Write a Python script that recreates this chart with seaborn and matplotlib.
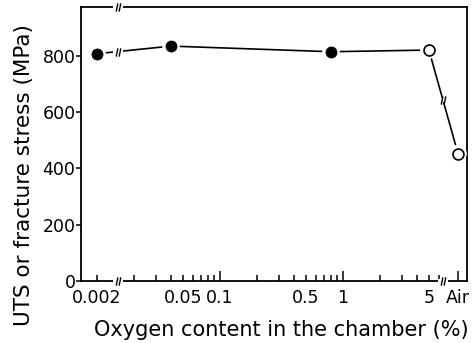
import numpy as np
import pandas as pd
import matplotlib
matplotlib.use("Agg")
import matplotlib.pyplot as plt
import seaborn as sns
from matplotlib.path import Path
from matplotlib.ticker import FixedLocator, FixedFormatter, NullFormatter
from matplotlib.transforms import blended_transform_factory

# ---------------- data ----------------
oxygen_pct = [0.002, 0.04, 0.8, 5.0, 21.0]      # 21 % = "Air"
stress_mpa = [808, 835, 815, 821, 453]
filled = [True, True, True, False, False]

tick_values = [0.002, 0.05, 0.1, 0.5, 1, 5, 21]
tick_labels = ["0.002", "0.05", "0.1", "0.5", "1", "5", "Air"]
long_ticks = [0.1, 1, 21]
minor_ticks = [0.02, 0.03, 0.04, 0.06, 0.07, 0.08, 0.09,
               0.2, 0.3, 0.4, 0.6, 0.7, 0.8, 0.9,
               2, 3, 4, 6]
y_ticks = [0, 200, 400, 600, 800]

# ---------------- broken log scale ----------------
LOW_SHIFT = 0.70
B1 = -1.83
B2 = 0.813
HIGH_SHIFT = 0.387


def forward(x):
    x = np.asarray(x, dtype=float)
    lx = np.log10(np.clip(x, 1e-9, None))
    return np.where(lx + LOW_SHIFT <= B1, lx + LOW_SHIFT,
           np.where(lx <= B1, B1,
           np.where(lx <= B2, lx,
           np.where(lx - HIGH_SHIFT <= B2, B2, lx - HIGH_SHIFT))))


def inverse(u):
    u = np.asarray(u, dtype=float)
    return np.where(u <= B1, 10 ** (u - LOW_SHIFT),
           np.where(u <= B2, 10 ** u, 10 ** (u + HIGH_SHIFT)))


sns.set_theme(style="ticks")
plt.rcParams["font.family"] = ["DejaVu Sans"]
plt.rcParams.update({"text.color": "black", "axes.labelcolor": "black",
                     "xtick.color": "black", "ytick.color": "black",
                     "axes.edgecolor": "black"})

fig = plt.figure(figsize=(4.75, 3.43), dpi=100)
ax = fig.add_axes([0.1705, 0.1808, 0.983 - 0.1705, 0.9796 - 0.1808])
ax.set_xscale("function", functions=(forward, inverse))

df = pd.DataFrame({"oxygen": oxygen_pct, "stress": stress_mpa, "filled": filled})

sns.lineplot(data=df, x="oxygen", y="stress", sort=False, estimator=None,
             color="black", lw=1.2, ax=ax, zorder=2)
# white halo around markers
sns.scatterplot(data=df, x="oxygen", y="stress", s=160, color="white",
                edgecolor="none", ax=ax, zorder=3)
sns.scatterplot(data=df[df.filled], x="oxygen", y="stress", s=62,
                color="black", edgecolor="black", ax=ax, zorder=4)
sns.scatterplot(data=df[~df.filled], x="oxygen", y="stress", s=62,
                color="white", edgecolor="black", linewidth=1.2, ax=ax, zorder=4)

ax.set_xlim(inverse(-2.13), inverse(1.008))
ax.set_ylim(0, 974)

# ticks
ax.xaxis.set_major_locator(FixedLocator(tick_values))
ax.xaxis.set_major_formatter(FixedFormatter(tick_labels))
ax.xaxis.set_minor_locator(FixedLocator(minor_ticks))
ax.xaxis.set_minor_formatter(NullFormatter())
ax.set_yticks(y_ticks)
ax.set_yticklabels([str(v) for v in y_ticks])

ax.tick_params(axis="x", which="both", direction="in", width=1.1,
               labelsize=12.5, pad=6, top=False, color="black", labelcolor="black")
ax.tick_params(axis="x", which="major", length=4)
ax.tick_params(axis="x", which="minor", length=4)
ax.tick_params(axis="y", direction="out", length=3.5, width=1.1,
               labelsize=12.5, pad=0.5, right=False, color="black", labelcolor="black")
for val, tk in zip(tick_values, ax.xaxis.get_major_ticks()):
    if val in long_ticks:
        tk.tick1line.set_markersize(7)

for sp in ax.spines.values():
    sp.set_visible(True)
    sp.set_linewidth(1.3)
    sp.set_color("black")

ax.set_xlabel("Oxygen content in the chamber (%)", fontsize=15, color="black")
ax.set_ylabel("UTS or fracture stress (MPa)", fontsize=15.5, color="black")
ax.xaxis.set_label_coords(0.52, -0.142)
ax.yaxis.set_label_coords(-0.122, 0.385)

# ---------------- break marks ----------------
slash = Path([(-0.55, -1), (-0.15, 1), (0.15, -1), (0.55, 1)],
             [Path.MOVETO, Path.LINETO, Path.MOVETO, Path.LINETO])
gap = Path([(-0.35, 0), (0.35, 0)], [Path.MOVETO, Path.LINETO])


def break_mark(x, y, transform):
    ax.plot([x], [y], marker=gap, ms=7, mec="white", mew=3, ls="none",
            transform=transform, clip_on=False, zorder=5)
    ax.plot([x], [y], marker=slash, ms=6, mec="black", mew=1.0, ls="none",
            transform=transform, clip_on=False, zorder=6)


btrans = blended_transform_factory(ax.transData, ax.transAxes)
xb1, xb2 = float(inverse(B1)), float(inverse(B2))
break_mark(xb1, 0, btrans)
break_mark(xb2, 0, btrans)
break_mark(xb1, 1, btrans)

# breaks on the data line
for i, ub in [(0, B1), (3, B2)]:
    u0, u1 = forward(oxygen_pct[i]), forward(oxygen_pct[i + 1])
    t = (ub - u0) / (u1 - u0)
    yb = stress_mpa[i] + t * (stress_mpa[i + 1] - stress_mpa[i])
    break_mark(float(inverse(ub)), yb, ax.transData)

fig.savefig("out.png", dpi=100)
